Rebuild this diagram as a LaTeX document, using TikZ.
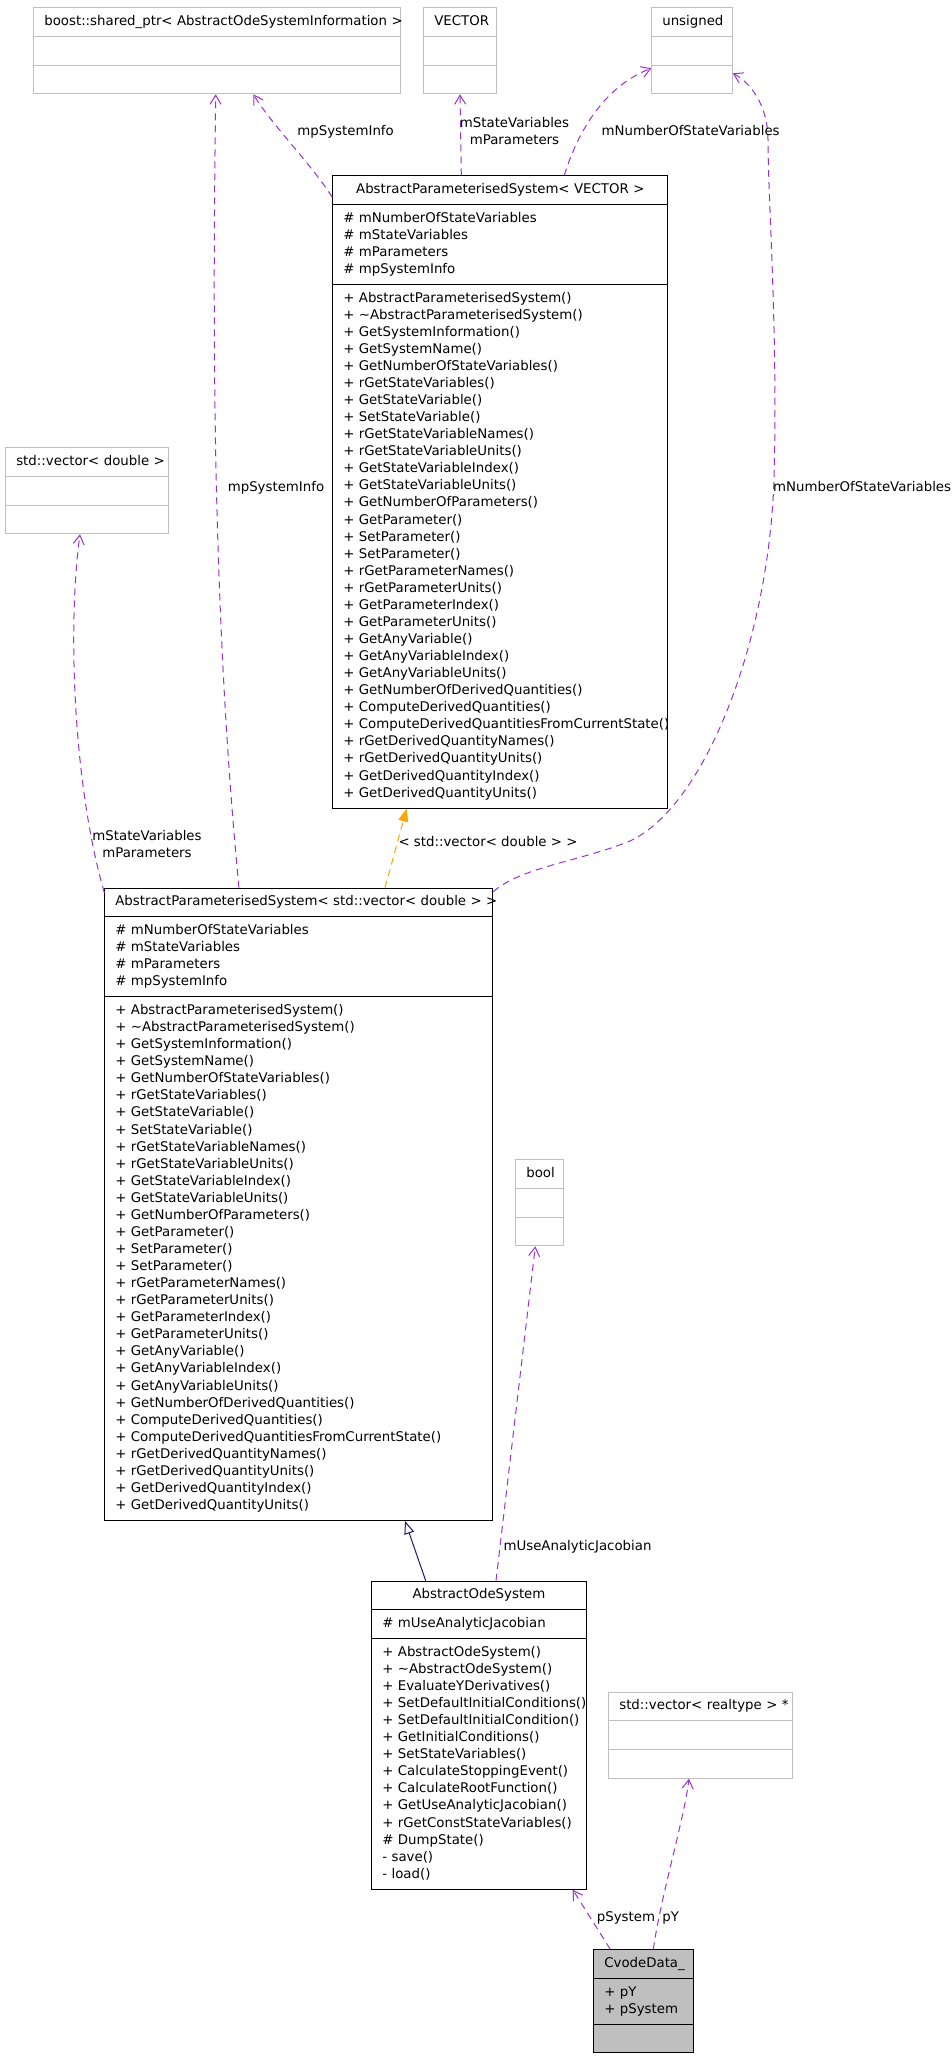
\documentclass[tikz,border=0pt]{standalone}
\usepackage{fontspec}
\setmainfont{DejaVu Sans}
\usetikzlibrary{arrows.meta,shapes.multipart}
\definecolor{boxgray}{HTML}{BFBFBF}
\definecolor{edgepurple}{HTML}{9A32CD}
\definecolor{edgeorange}{HTML}{FFA500}
\definecolor{edgeblue}{HTML}{191970}
\newcommand{\dgfont}{\fontsize{13.33}{17.07}\selectfont}
\newcommand{\clsname}[1]{\hbox to\hsize{\strut\hfil#1\hfil}}
\newcommand{\memb}[1]{\mbox{\strut#1}}
\newcommand{\apsattrs}{\memb{\# mNumberOfStateVariables}\\\memb{\# mStateVariables}\\
  \memb{\# mParameters}\\\memb{\# mpSystemInfo}}
\newcommand{\apsmethods}{\memb{+ AbstractParameterisedSystem()}\\
  \memb{+ \textasciitilde{}AbstractParameterisedSystem()}\\
  \memb{+ GetSystemInformation()}\\\memb{+ GetSystemName()}\\
  \memb{+ GetNumberOfStateVariables()}\\\memb{+ rGetStateVariables()}\\
  \memb{+ GetStateVariable()}\\\memb{+ SetStateVariable()}\\
  \memb{+ rGetStateVariableNames()}\\\memb{+ rGetStateVariableUnits()}\\
  \memb{+ GetStateVariableIndex()}\\\memb{+ GetStateVariableUnits()}\\
  \memb{+ GetNumberOfParameters()}\\\memb{+ GetParameter()}\\
  \memb{+ SetParameter()}\\\memb{+ SetParameter()}\\
  \memb{+ rGetParameterNames()}\\\memb{+ rGetParameterUnits()}\\
  \memb{+ GetParameterIndex()}\\\memb{+ GetParameterUnits()}\\
  \memb{+ GetAnyVariable()}\\\memb{+ GetAnyVariableIndex()}\\
  \memb{+ GetAnyVariableUnits()}\\\memb{+ GetNumberOfDerivedQuantities()}\\
  \memb{+ ComputeDerivedQuantities()}\\
  \memb{+ ComputeDerivedQuantitiesFromCurrentState()}\\
  \memb{+ rGetDerivedQuantityNames()}\\\memb{+ rGetDerivedQuantityUnits()}\\
  \memb{+ GetDerivedQuantityIndex()}\\\memb{+ GetDerivedQuantityUnits()}}
\tikzset{
  classbox/.style={
    rectangle split,rectangle split parts=3,draw=black,line width=1pt,
    inner xsep=10.5pt,inner ysep=5.3pt,anchor=north west,align=left,
    font=\dgfont
  },
  extbox/.style={classbox,draw=boxgray},
  mainbox/.style={classbox,fill=boxgray},
  usearrow/.style={
    draw=edgepurple,line width=1pt,dash pattern=on 7pt off 5pt,
    -{Straight Barb[length=9pt,width=11pt,line width=1pt]}
  },
  tplarrow/.style={
    draw=edgeorange,line width=1pt,dash pattern=on 7pt off 5pt,
    -{Triangle[length=13pt,width=10pt,fill=edgeorange]}
  },
  inharrow/.style={
    draw=edgeblue,line width=1pt,
    -{Triangle[open,length=13pt,width=10pt,fill=white]}
  },
  edgelabel/.style={font=\dgfont,inner sep=0pt,align=center}
}

\begin{document}
\begin{tikzpicture}[x=1pt,y=-1pt]
  \useasboundingbox (0,0) rectangle (951,2056);

  % outside types
  \node[extbox,text width=346pt] (boost) at (33.3,7.3)
    {\clsname{boost::shared\_ptr< AbstractOdeSystemInformation >}
     \nodepart{second}\strut\nodepart{third}\strut};
  \node[extbox,text width=51.4pt] (vectortype) at (423.3,7.3)
    {\clsname{VECTOR}\nodepart{second}\strut\nodepart{third}\strut};
  \node[extbox,text width=59.4pt] (unsignedtype) at (651.3,7.3)
    {\clsname{unsigned}\nodepart{second}\strut\nodepart{third}\strut};
  \node[extbox,text width=142pt] (vecdouble) at (5.3,447.3)
    {\clsname{std::vector< double >}\nodepart{second}\strut\nodepart{third}\strut};
  \node[extbox,text width=27pt] (booltype) at (515.3,1159.3)
    {\clsname{bool}\nodepart{second}\strut\nodepart{third}\strut};
  \node[extbox,text width=162.3pt] (vecrealtype) at (608.3,1691.7)
    {\clsname{std::vector< realtype > *}\nodepart{second}\strut\nodepart{third}\strut};

  % class hierarchy
  \node[classbox,text width=314pt] (apsvector) at (332.3,175.3)
    {\clsname{AbstractParameterisedSystem< VECTOR >}
     \nodepart{second}\apsattrs\nodepart{third}\apsmethods};
  \node[classbox,text width=367pt] (apsdouble) at (104.3,887.7)
    {\clsname{AbstractParameterisedSystem< std::vector< double > >}
     \nodepart{second}\apsattrs\nodepart{third}\apsmethods};
  \node[classbox,text width=193.4pt] (odesystem) at (371.3,1580.7)
    {\clsname{AbstractOdeSystem}
     \nodepart{second}\memb{\# mUseAnalyticJacobian}
     \nodepart{third}\memb{+ AbstractOdeSystem()}\\
     \memb{+ \textasciitilde{}AbstractOdeSystem()}\\
     \memb{+ EvaluateYDerivatives()}\\
     \memb{+ SetDefaultInitialConditions()}\\
     \memb{+ SetDefaultInitialCondition()}\\
     \memb{+ GetInitialConditions()}\\\memb{+ SetStateVariables()}\\
     \memb{+ CalculateStoppingEvent()}\\\memb{+ CalculateRootFunction()}\\
     \memb{+ GetUseAnalyticJacobian()}\\\memb{+ rGetConstStateVariables()}\\
     \memb{\# DumpState()}\\\memb{- save()}\\\memb{- load()}};
  \node[mainbox,text width=78.9pt] (cvodedata) at (593.3,1949.3)
    {\clsname{CvodeData\_}
     \nodepart{second}\memb{+ pY}\\\memb{+ pSystem}\nodepart{third}\strut};

  % relations
  \draw[usearrow] ([xshift=134.7pt]apsdouble.north west)
    .. controls (211,600) and (213,300) .. ([xshift=182.4pt]boost.south west);
  \draw[usearrow] ([yshift=-22pt]apsvector.north west)
    .. controls (312,165) and (272,125) .. ([xshift=220pt]boost.south west);
  \draw[usearrow] ([xshift=129pt]apsvector.north west) -- (vectortype.south);
  \draw[usearrow] ([xshift=232pt]apsvector.north west)
    .. controls (580,125) and (608,85) .. ([yshift=-61pt]unsignedtype.north west);
  \draw[usearrow] ([yshift=-4pt]apsdouble.north east)
    .. controls (520,868) and (575,862) .. (625,843)
    .. controls (700,815) and (768,650) .. (774,480)
    .. controls (778,330) and (768,200) .. (768,140)
    .. controls (768,105) and (750,82) .. ([yshift=-66pt]unsignedtype.north east);
  \draw[usearrow] ([yshift=-5pt]apsdouble.north west)
    .. controls (72,780) and (68,620) .. ([xshift=74.7pt]vecdouble.south west);
  \draw[tplarrow] ([xshift=280.7pt]apsdouble.north west)
    -- ([xshift=74.4pt]apsvector.south west);
  \draw[inharrow] ([xshift=54.4pt]odesystem.north west)
    -- ([xshift=300.7pt]apsdouble.south west);
  \draw[usearrow] ([xshift=124.7pt]odesystem.north west)
    -- ([xshift=20pt]booltype.south west);
  \draw[usearrow] ([xshift=17pt]cvodedata.north west)
    -- ([xshift=201.4pt]odesystem.south west);
  \draw[usearrow] ([xshift=60pt]cvodedata.north west)
    .. controls (661,1895) and (684,1820) .. ([xshift=80.7pt]vecrealtype.south west);

  % labels
  \node[edgelabel] (lblinfolong) at (276,488) {\strut mpSystemInfo};
  \node[edgelabel] (lblinfoshort) at (345.6,132) {\strut mpSystemInfo};
  \node[edgelabel] (lblvector) at (514.5,132.3) {\strut mStateVariables\\mParameters\strut};
  \node[edgelabel] (lblcountshort) at (690.7,132) {\strut mNumberOfStateVariables};
  \node[edgelabel,anchor=west] (lblcountlong) at (773,488) {\strut mNumberOfStateVariables};
  \node[edgelabel] (lbldouble) at (147,845.5) {\strut mStateVariables\\mParameters\strut};
  \node[edgelabel] (lbltemplate) at (488,843.5) {\strut< std::vector< double > >};
  \node[edgelabel] (lbljacobian) at (577.5,1546.7) {\strut mUseAnalyticJacobian};
  \node[edgelabel] (lblsystem) at (626,1918) {\strut pSystem};
  \node[edgelabel] (lblpy) at (670.7,1918) {\strut pY};
\end{tikzpicture}
\end{document}
